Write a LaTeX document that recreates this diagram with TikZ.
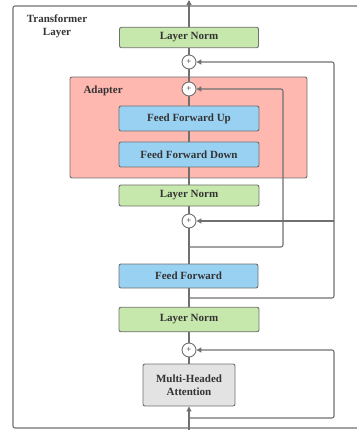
\documentclass[tikz,border=0pt]{standalone}
\usepackage{fontspec}
\setmainfont{Liberation Serif}
\usetikzlibrary{arrows.meta}
\definecolor{lnc}{HTML}{707070}
\definecolor{txc}{HTML}{333333}
\definecolor{greenf}{HTML}{C7E8AC}
\definecolor{bluef}{HTML}{99D1F2}
\definecolor{pinkf}{HTML}{FFB8B0}
\definecolor{grayf}{HTML}{E3E3E3}
\tikzset{
  blk/.style={draw=lnc, line width=0.9pt, rounded corners=2pt, inner sep=0pt,
    font=\fontsize{11}{13}\selectfont\bfseries, text=txc, align=center},
  lnbox/.style={blk, fill=greenf},
  bluebox/.style={blk, fill=bluef},
  plusnode/.style={draw=lnc, line width=0.9pt, fill=white, circle, minimum size=14pt, inner sep=0pt,
    font=\fontsize{9}{9}\selectfont, text=txc},
  conn/.style={draw=lnc, line width=1.1pt},
  arr/.style={conn, -{Triangle[length=5pt,width=5pt]}},
  rarr/.style={conn, rounded corners=2pt, -{Triangle[length=5pt,width=5pt]}},
  lbl/.style={font=\fontsize{11}{13}\selectfont\bfseries, text=txc, align=center}
}
\begin{document}
\begin{tikzpicture}[x=1pt,y=-1pt]
\useasboundingbox (0,0) rectangle (356,430);
% outer transformer layer box
\draw[lnc, line width=1.1pt, rounded corners=2pt] (13,6) rectangle (390,428);
\node[lbl] (tl) at (57,26.5) {Transformer\\Layer};
% adapter
\node[draw=lnc, line width=0.9pt, rounded corners=2pt, fill=pinkf, minimum width=237pt, minimum height=101pt, inner sep=0pt] (adapter) at (188.5,127.5) {};
\node[lbl, anchor=west] (adlbl) at (80,91) {Adapter};
% blocks
\node[lnbox, minimum width=139pt, minimum height=20.5pt] (ln1) at (189,37.5) {Layer Norm};
\node[plusnode] (p1) at (189,62) {+};
\node[plusnode] (p2) at (189,89) {+};
\node[bluebox, minimum width=140pt, minimum height=25pt] (ffu) at (189,118.5) {Feed Forward Up};
\node[bluebox, minimum width=140pt, minimum height=25pt] (ffd) at (189,154.5) {Feed Forward Down};
\node[lnbox, minimum width=140pt, minimum height=21pt] (ln2) at (189,195.5) {Layer Norm};
\node[plusnode] (p3) at (189,221) {+};
\node[bluebox, minimum width=139pt, minimum height=24pt] (ff) at (188.5,276) {Feed Forward};
\node[lnbox, minimum width=140pt, minimum height=24.5pt] (ln3) at (189,319.5) {Layer Norm};
\node[plusnode] (p4) at (189,350) {+};
\node[blk, fill=grayf, minimum width=92pt, minimum height=42pt] (mha) at (189,385) {Multi-Headed\\Attention};
% coordinates
\coordinate (in) at (189,430);
\coordinate (out) at (189,0);
\coordinate (j4) at (189,418);
\coordinate (j3) at (189,298);
\coordinate (j2) at (189,247);
\coordinate (r4) at (334,418);
\coordinate (r3) at (334,298);
\coordinate (r1) at (334,62);
\coordinate (b3) at (334,221);
\coordinate (r2a) at (283,247);
\coordinate (r2b) at (283,89);
% main path
\draw[arr] (in) -- (mha.south);
\draw[conn] (mha.north) -- (p4.south);
\draw[conn] (p4.north) -- (ln3.south);
\draw[conn] (ln3.north) -- (ff.south -| ln3.north);
\draw[conn] (ff.north -| p3.south) -- (p3.south);
\draw[conn] (p3.north) -- (ln2.south);
\draw[conn] (ln2.north) -- (ffd.south);
\draw[conn] (ffd.north) -- (ffu.south);
\draw[conn] (ffu.north) -- (p2.south);
\draw[conn] (p2.north) -- (p1.south);
\draw[conn] (p1.north) -- (ln1.south);
\draw[arr] (ln1.north) -- (out);
% residual connections
\draw[rarr] (j4) -- (r4) -- (334,350) -- (p4.east);
\draw[rarr] (j3) -- (r3) -- (r1) -- (p1.east);
\draw[arr] (b3) -- (p3.east);
\draw[rarr] (j2) -- (r2a) -- (r2b) -- (p2.east);
\end{tikzpicture}
\end{document}
